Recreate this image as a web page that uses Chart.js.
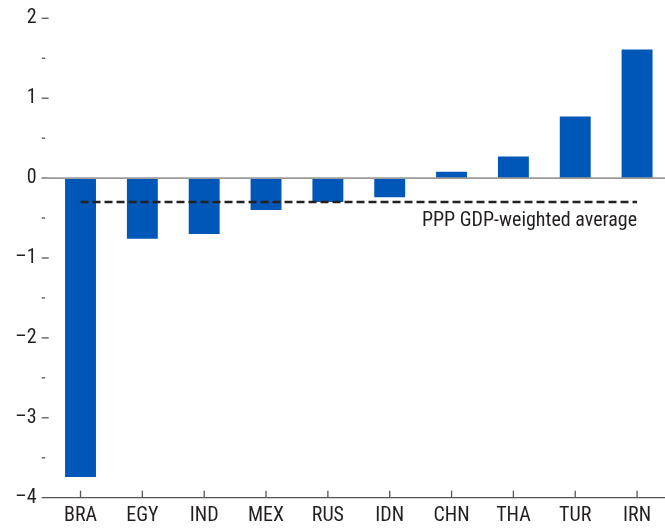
<!DOCTYPE html>
<html>
<head>
<meta charset="utf-8">
<script src="https://cdn.jsdelivr.net/npm/chart.js@4.4.1/dist/chart.umd.min.js"></script>
<style>
  html, body { margin: 0; padding: 0; background: #fff; overflow: hidden; }
  #wrap { position: relative; width: 668px; height: 529px; }
</style>
</head>
<body>
<div id="wrap"><canvas id="chart"></canvas></div>
<script>
const categories = ['BRA', 'EGY', 'IND', 'MEX', 'RUS', 'IDN', 'CHN', 'THA', 'TUR', 'IRN'];
const values = [-3.74, -0.76, -0.70, -0.40, -0.30, -0.24, 0.08, 0.27, 0.77, 1.61];
const averageLine = [-0.3, -0.3, -0.3, -0.3, -0.3, -0.3, -0.3, -0.3, -0.3, -0.3];
const averageLabel = 'PPP GDP-weighted average';
const yMin = -4, yMax = 2, yStep = 0.5;

const FONT = "'Roboto Condensed', 'Liberation Sans', sans-serif";
const TEXT = '#231f20';

// tick marks, zero line and bottom axis line drawn after the bars
const axisMarks = {
  id: 'axisMarks',
  afterDatasetsDraw(chart) {
    const { ctx, scales: { x, y } } = chart;
    const lineStart = 41.7;
    const right = chart.width;
    ctx.save();
    // y tick marks (long on integers, short on halves)
    ctx.strokeStyle = '#555';
    ctx.lineWidth = 1.3;
    y.ticks.forEach(t => {
      if (t.value === yMin) return;
      const py = y.getPixelForValue(t.value);
      const len = Number.isInteger(t.value) ? 7 : 3.5;
      ctx.beginPath();
      ctx.moveTo(lineStart, py);
      ctx.lineTo(lineStart + len, py);
      ctx.stroke();
    });
    // zero line
    const zy = y.getPixelForValue(0);
    ctx.strokeStyle = '#9a9a9a';
    ctx.lineWidth = 1.6;
    ctx.beginPath();
    ctx.moveTo(lineStart, zy);
    ctx.lineTo(right, zy);
    ctx.stroke();
    // bottom axis line
    const by = y.getPixelForValue(yMin);
    ctx.strokeStyle = '#555';
    ctx.lineWidth = 1.3;
    ctx.beginPath();
    ctx.moveTo(lineStart, by);
    ctx.lineTo(right, by);
    ctx.stroke();
    // x tick marks pointing up
    x.ticks.forEach((t, i) => {
      const px = x.getPixelForTick(i);
      ctx.beginPath();
      ctx.moveTo(px, by);
      ctx.lineTo(px, by - 7);
      ctx.stroke();
    });
    // average label
    const last = averageLine.length - 1;
    ctx.fillStyle = TEXT;
    ctx.font = '20px ' + FONT;
    ctx.textAlign = 'right';
    ctx.textBaseline = 'alphabetic';
    ctx.fillText(averageLabel, x.getPixelForValue(last), y.getPixelForValue(averageLine[last]) + 24);
    ctx.restore();
  }
};

new Chart(document.getElementById('chart'), {
  data: {
    labels: categories,
    datasets: [
      {
        type: 'line',
        label: averageLabel,
        data: averageLine,
        borderColor: '#222222',
        borderWidth: 2.6,
        borderDash: [8, 4],
        pointRadius: 0,
        fill: false,
        order: 0
      },
      {
        type: 'bar',
        label: 'Value',
        data: values,
        backgroundColor: '#0057b8',
        borderWidth: 0,
        barPercentage: 0.5,
        categoryPercentage: 1.0,
        order: 1
      }
    ]
  },
  options: {
    responsive: true,
    maintainAspectRatio: false,
    animation: false,
    layout: { padding: { top: 18.3, right: 0, left: 0, bottom: 0 } },
    plugins: {
      legend: { display: false },
      tooltip: { enabled: false }
    },
    scales: {
      x: {
        offset: true,
        border: { display: false },
        grid: { display: false, drawTicks: false },
        ticks: {
          color: TEXT,
          font: { family: FONT, size: 20 },
          padding: 6,
          maxRotation: 0,
          autoSkip: false
        },
        afterFit(scale) { scale.height = 31.3; }
      },
      y: {
        min: yMin,
        max: yMax,
        border: { display: false },
        grid: { display: false, drawTicks: false },
        ticks: {
          stepSize: yStep,
          color: TEXT,
          font: { family: FONT, size: 20 },
          padding: 13,
          callback: v => Number.isInteger(v) ? (v < 0 ? '\u2013' + Math.abs(v) : String(v)) : ''
        },
        afterFit(scale) {
          scale.width = 49.6;
          scale.paddingTop = 10;
          scale.paddingBottom = 10;
        }
      }
    }
  },
  plugins: [axisMarks]
});
</script>
</body>
</html>
